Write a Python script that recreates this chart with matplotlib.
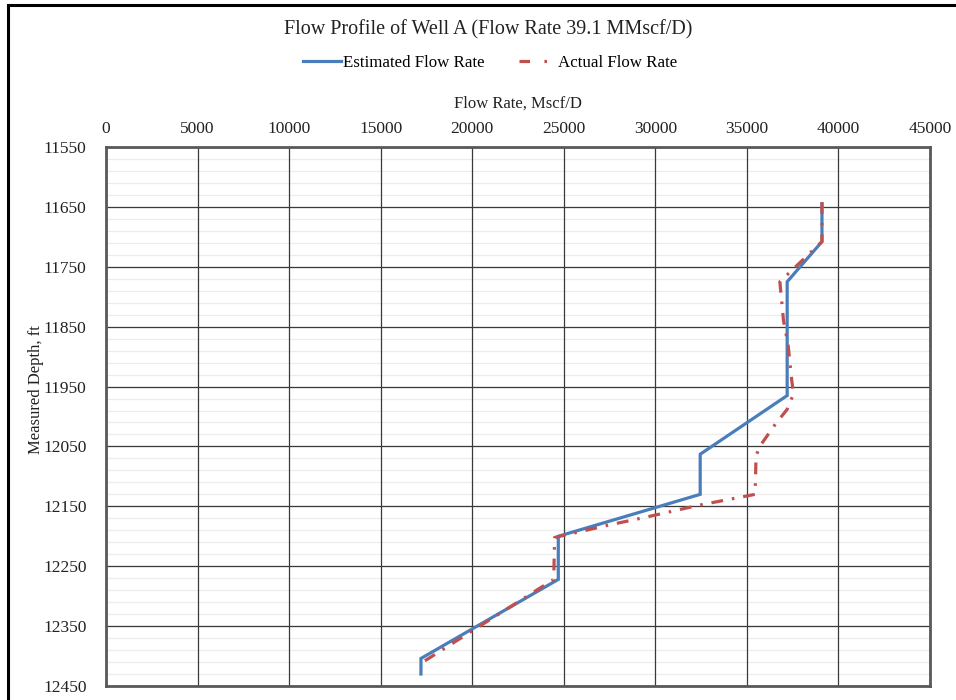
import matplotlib
matplotlib.use("Agg")
import matplotlib.pyplot as plt
from matplotlib.patches import Rectangle
from matplotlib.lines import Line2D
import numpy as np

plt.rcParams['font.family'] = ['Liberation Serif', 'DejaVu Serif']

# estimated profile (Mscf/D vs measured depth, ft)
est_rate = [39100, 39100, 37200, 37200, 32450, 32450, 24700, 24700, 17200, 17200]
est_depth = [11645, 11708, 11775, 11965, 12063, 12130, 12200, 12272, 12404, 12430]

# measured profile
act_rate = [39100, 39100, 36800, 37000, 37250, 37450, 37550, 37200, 36550,
            35700, 35500, 35450, 32400, 29500, 27500, 24500, 24450, 17150]
act_depth = [11642, 11708, 11775, 11840, 11880, 11940, 11962, 11988, 12013,
             12050, 12066, 12130, 12148, 12168, 12181, 12202, 12272, 12413]

xticks = [0, 5000, 10000, 15000, 20000, 25000, 30000, 35000, 40000, 45000]
yticks = [11550, 11650, 11750, 11850, 11950, 12050, 12150, 12250, 12350, 12450]

fig = plt.figure(figsize=(9.56, 7.0), dpi=100)
ax = fig.add_axes([106/956, 1 - 686/700, 824/956, 539/700])

# light minor lines every 20 ft
ax.hlines(np.arange(11550, 12450, 20), 0, 45000, color='#ececec', lw=0.9, zorder=0.2)

l1, = ax.plot(est_rate, est_depth, color='#4A7EBB', lw=2.3, solid_joinstyle='miter',
              label='Estimated Flow Rate', zorder=3)
ax.plot(act_rate, act_depth, color='#C0504D', lw=2.3, dashes=(3.7, 2.8, 0.8, 2.8), zorder=4)
# legend key: one dash, one dot
l2 = Line2D([], [], color='#C0504D', lw=2.3, dashes=(3.3, 4.5, 0.8, 12),
            label='Actual Flow Rate')

ax.set_xlim(0, 45000)
ax.set_ylim(12450, 11550)
ax.set_xticks(xticks)
ax.set_yticks(yticks)
ax.xaxis.tick_top()
ax.xaxis.set_label_position('top')
ax.tick_params(axis='both', length=0, labelsize=12.5, colors='#222222')
ax.tick_params(axis='x', pad=7)
ax.tick_params(axis='y', pad=14)

ax.grid(which='major', color='#3a3a3a', lw=0.9)
ax.set_axisbelow(True)
for s in ax.spines.values():
    s.set_color('#595959')
    s.set_linewidth(2.0)

ax.set_xlabel('Flow Rate, Mscf/D', fontsize=12, labelpad=10, color='#222222')
ax.set_ylabel('Measured Depth, ft', fontsize=12, color='#222222')
ax.yaxis.set_label_coords(-0.075, 0.55)

fig.text(0.511, 1 - 30/700, 'Flow Profile of Well A (Flow Rate 39.1 MMscf/D)',
         ha='center', va='center', fontsize=14.5, color='#222222')
fig.legend(handles=[l1, l2], loc='center', bbox_to_anchor=(0.513, 1 - 63/700), ncol=2,
           frameon=False, fontsize=12.2, handlelength=2.2, handletextpad=0.15,
           columnspacing=2.0)

# outer chart frame
fig.add_artist(Rectangle((8/956, -0.2), 1.5, 1.2 - 5/700, transform=fig.transFigure,
                         fill=False, ec='black', lw=2.2))

fig.savefig('out.png', dpi=100)
